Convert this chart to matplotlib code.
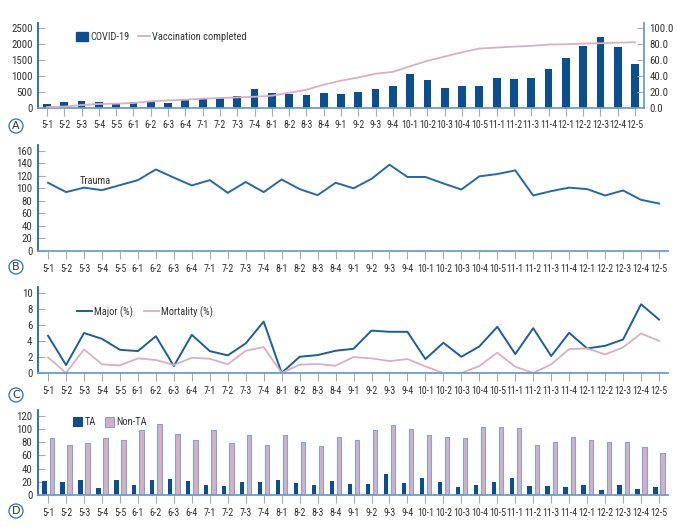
import matplotlib.pyplot as plt
from matplotlib.patches import Patch
from matplotlib.lines import Line2D
import numpy as np

plt.rcParams['font.family'] = ['Roboto Condensed', 'Liberation Sans Narrow',
                               'Open Sans Condensed', 'Liberation Sans']
plt.rcParams['font.stretch'] = 'condensed'
plt.rcParams['font.size'] = 8

weeks = ['5-1', '5-2', '5-3', '5-4', '5-5', '6-1', '6-2', '6-3', '6-4',
         '7-1', '7-2', '7-3', '7-4', '8-1', '8-2', '8-3', '8-4',
         '9-1', '9-2', '9-3', '9-4', '10-1', '10-2', '10-3', '10-4', '10-5',
         '11-1', '11-2', '11-3', '11-4', '12-1', '12-2', '12-3', '12-4', '12-5']

covid = [124, 196, 207, 196, 165, 196, 175, 145, 269, 289, 310, 382, 579,
         475, 444, 393, 465, 434, 496, 579, 682, 1054, 878, 620, 692, 692,
         940, 888, 930, 1219, 1550, 1942, 2200, 1911, 1364]
vaccination = [1.2, 1.7, 3.7, 5.0, 5.4, 6.2, 8.3, 9.5, 10.3, 11.6, 12.4, 13.2,
               14.0, 15.3, 19.0, 22.7, 29.0, 34.0, 38.0, 42.6, 45.0, 52.0, 58.7,
               64.0, 69.4, 74.0, 75.2, 76.4, 77.3, 79.0, 79.3, 80.2, 80.6, 81.4, 81.8]

trauma = [108.8, 93.9, 101, 97, 105, 113, 130, 117, 104.5, 113, 92.8, 110,
          93.9, 114, 98.7, 89, 108.8, 100, 115, 137.6, 118, 118, 107.7, 98,
          119, 122.7, 128.5, 88.5, 95.5, 101, 98.7, 88.5, 96.5, 81.6, 75.7]

major = [4.65, 1.0, 5.0, 4.27, 2.9, 2.74, 4.6, 0.87, 4.77, 2.74, 2.2, 3.7,
         6.43, 0.0, 2.03, 2.24, 2.78, 3.03, 5.3, 5.15, 5.15, 1.74, 3.78, 2.03,
         3.32, 5.77, 2.37, 5.6, 2.12, 5.02, 3.07, 3.4, 4.19, 8.59, 6.68]
mortality = [1.95, 0.0, 2.95, 1.08, 0.95, 1.83, 1.62, 1.0, 1.91, 1.78, 1.08,
             2.78, 3.24, 0.0, 1.04, 1.12, 0.91, 1.99, 1.83, 1.49, 1.74, 0.83,
             0.0, 0.0, 0.87, 2.53, 0.79, 0.0, 1.08, 2.99, 3.07, 2.32, 3.2, 4.94, 4.02]

ta = [21.3, 19.7, 23.3, 10.1, 22.3, 15.2, 22.3, 24.8, 21.8, 15.2, 13.7, 19.7,
      19.2, 23.3, 18.2, 15.2, 21.3, 17.2, 16.7, 31.4, 18.2, 25.3, 20.3, 11.6,
      15.2, 19.7, 25.8, 13.2, 14.2, 12.7, 15.2, 7.1, 15.2, 9.6, 11.6]
non_ta = [86.6, 75.9, 79, 86.6, 83.5, 98.7, 107.3, 92.7, 83, 98.2, 79, 91.1,
          75.9, 91.1, 80, 74.4, 87.6, 83, 98.2, 106.8, 99.7, 91.6, 87.6, 86.6,
          103.8, 102.8, 101.3, 75.9, 80.5, 88.6, 83, 80.5, 80.5, 72.4, 64.3]

DARK = '#0b4f92'
LINE_BLUE = '#2568a8'
PINK = '#d9aec4'
AXIS_BLUE = '#6d9cc8'
EDGE_BLUE = '#7aa6d4'
TXT = '#333333'
XLAB = 7.1

x = np.arange(len(weeks))
W, H = 682, 527
fig = plt.figure(figsize=(W / 100, H / 100), dpi=100)


def add_ax(left, top, right, bottom):
    return fig.add_axes([left / W, 1 - bottom / H, (right - left) / W, (bottom - top) / H])


def style(ax):
    for s in ['top', 'right']:
        ax.spines[s].set_visible(False)
    ax.spines['left'].set_color('#1f66b0')
    ax.spines['left'].set_linewidth(1.3)
    ax.spines['bottom'].set_color(AXIS_BLUE)
    ax.spines['bottom'].set_linewidth(1.3)
    ax.set_xticks(x)
    ax.set_xticklabels(weeks)
    ax.tick_params(axis='x', length=6, color='#a9a9a9', labelcolor=TXT, pad=3,
                   labelsize=XLAB)
    ax.tick_params(axis='y', direction='in', length=5, color='#a9a9a9', labelcolor=TXT,
                   pad=4, labelsize=7.8)


def circle_label(ypix, letter):
    fig.text(16 / W, 1 - ypix / H, letter, ha='center', va='center', fontsize=8,
             color=TXT, family='DejaVu Sans', stretch='normal',
             bbox=dict(boxstyle='circle,pad=0.18', fc='white', ec='#2a6fb4', lw=0.9))


leg_kw = dict(frameon=False, ncol=2, borderaxespad=0, borderpad=0, fontsize=7.5,
              labelcolor=TXT, handletextpad=0.2)

# A
axA = add_ax(38, 23, 644, 108)
style(axA)
axA.bar(x, covid, width=0.45, color=DARK, zorder=2)
axA.set_xlim(-0.52, 34.52)
axA.set_ylim(0, 2645)
axA.set_yticks(range(0, 2501, 500))
axA2 = axA.twinx()
axA2.plot(x, vaccination, color=PINK, lw=1.3, zorder=3)
axA2.set_ylim(0, 105.8)
axA2.set_yticks(range(0, 101, 20))
axA2.set_yticklabels([f'{v:.1f}' for v in range(0, 101, 20)])
for s in ['top', 'left', 'bottom']:
    axA2.spines[s].set_visible(False)
axA2.spines['right'].set_color(AXIS_BLUE)
axA2.spines['right'].set_linewidth(1.3)
axA2.tick_params(axis='y', direction='in', length=5, color='#a9a9a9', labelcolor=TXT,
                 pad=4, labelsize=7.8)
axA.legend(handles=[Patch(color=DARK, label='COVID-19'),
                    Line2D([], [], color=PINK, lw=1.3, label='Vaccination completed')],
           loc='center left', bbox_to_anchor=(0.062, 0.835), handlelength=1.2,
           handleheight=1.0, columnspacing=0.8, **leg_kw)
circle_label(126, 'A')

# B
axB = add_ax(38, 145, 668, 251)
style(axB)
axB.plot(x, trauma, color=LINE_BLUE, lw=1.4)
axB.set_xlim(-0.56, 34.5)
axB.set_ylim(0, 169)
axB.set_yticks(range(0, 161, 20))
axB.text(1.75, 112, 'Trauma', fontsize=7.5, color=TXT, va='center')
circle_label(267, 'B')

# C
axC = add_ax(38, 287, 668, 373)
style(axC)
axC.plot(x, major, color='#1c5d9e', lw=1.4, label='Major (%)')
axC.plot(x, mortality, color=PINK, lw=1.3, label='Mortality (%)')
axC.set_xlim(-0.56, 34.5)
axC.set_ylim(0, 10.75)
axC.set_yticks(range(0, 11, 2))
axC.legend(loc='center left', bbox_to_anchor=(0.062, 0.71), handlelength=1.45,
           columnspacing=1.0, **leg_kw)
circle_label(395, 'C')

# D
axD = add_ax(38, 410, 668, 495)
style(axD)
axD.bar(x - 0.2, ta, width=0.24, color=DARK, label='TA', zorder=2)
axD.bar(x + 0.2, non_ta, width=0.24, color=PINK, edgecolor=EDGE_BLUE, lw=0.8,
        label='Non-TA', zorder=2)
axD.set_xlim(-0.56, 34.5)
axD.set_ylim(0, 129)
axD.set_yticks(range(0, 121, 20))
axD.legend(loc='center left', bbox_to_anchor=(0.056, 0.86), handlelength=0.9,
           handleheight=1.1, columnspacing=0.85, **leg_kw)
circle_label(511, 'D')

fig.savefig('out.png', dpi=100)
